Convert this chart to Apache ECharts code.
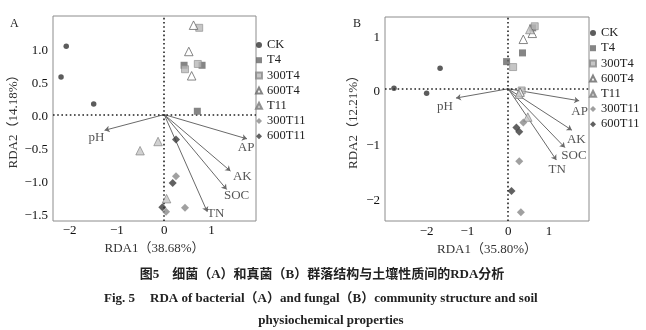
<!DOCTYPE html>
<html><head><meta charset="utf-8">
<script src="https://cdn.jsdelivr.net/npm/echarts@6/dist/echarts.min.js"></script>
<style>html,body{margin:0;padding:0;background:#fff}#c{width:646px;height:330px}</style>
</head><body><div id="c"></div>
<script>
// ---------- data ----------
const groups = ['CK','T4','300T4','600T4','T11','300T11','600T11'];
const envNames = ['pH','AP','AK','SOC','TN'];

// Panel A (bacteria)
const A_CK     = [[-2.07,1.07],[-2.18,0.60],[-1.49,0.19]];
const A_T4     = [[0.42,0.78],[0.80,0.78],[0.70,0.08]];
const A_300T4  = [[0.74,1.35],[0.44,0.72],[0.71,0.80]];
const A_600T4  = [[0.62,1.39],[0.52,0.99],[0.58,0.62]];
const A_T11    = [[-0.13,-0.38],[-0.51,-0.52],[0.05,-1.25]];
const A_300T11 = [[0.25,-0.91],[0.44,-1.39],[0.04,-1.45]];
const A_600T11 = [[0.25,-0.35],[0.18,-1.01],[-0.04,-1.38]];
const A_envEnd   = [[-1.26,-0.21],[1.75,-0.34],[1.40,-0.83],[1.32,-1.11],[0.91,-1.45]];
const A_envLabel = [[-1.43,-0.32],[1.73,-0.47],[1.65,-0.91],[1.53,-1.20],[1.09,-1.47]];
const A_origin = [0, 0.03];
const A_xTicks = [-2,-1,0,1];
const A_yTicks = [-1.5,-1,-0.5,0,0.5,1];
const A_xRange = [-2.35,1.94];
const A_yRange = [-1.59,1.53];

// Panel B (fungi)
const B_CK     = [[-2.80,0.06],[-2.00,-0.03],[-1.67,0.43]];
const B_T4     = [[-0.04,0.55],[0.35,0.71],[0.60,1.17]];
const B_300T4  = [[0.65,1.20],[0.12,0.45],[0.33,0.02]];
const B_600T4  = [[0.37,0.96],[0.59,1.07],[0.29,-0.01]];
const B_T11    = [[0.53,1.14],[0.48,-0.47],[0.26,-0.05]];
const B_300T11 = [[0.37,-0.57],[0.27,-1.28],[0.31,-2.22]];
const B_600T11 = [[0.20,-0.66],[0.27,-0.74],[0.08,-1.83]];
const B_envEnd   = [[-1.28,-0.12],[1.74,-0.17],[1.56,-0.71],[1.39,-1.03],[1.18,-1.26]];
const B_envLabel = [[-1.55,-0.27],[1.75,-0.36],[1.67,-0.88],[1.61,-1.18],[1.20,-1.44]];
const B_origin = [0, 0.05];
const B_xTicks = [-2,-1,0,1];
const B_yTicks = [-2,-1,0,1];
const B_xRange = [-3.02,1.98];
const B_yRange = [-2.38,1.37];

const A_groups = [A_CK,A_T4,A_300T4,A_600T4,A_T11,A_300T11,A_600T11];
const B_groups = [B_CK,B_T4,B_300T4,B_600T4,B_T11,B_300T11,B_600T11];

// ---------- styles ----------
const SERIF = '"Liberation Serif","Times New Roman",serif';
const styles = {
  'CK':     {symbol:'circle',  size:5.5, itemStyle:{color:'#333333'}},
  'T4':     {symbol:'rect',    size:7, itemStyle:{color:'#666666'}},
  '300T4':  {symbol:'rect',    size:7, itemStyle:{color:'#b8b8b8', borderColor:'#8a8a8a', borderWidth:0.8}},
  '600T4':  {symbol:'triangle',size:8.5, itemStyle:{color:'#ffffff', borderColor:'#666666', borderWidth:1}},
  'T11':    {symbol:'triangle',size:8.5, itemStyle:{color:'#c6c6c6', borderColor:'#7a7a7a', borderWidth:0.8}},
  '300T11': {symbol:'diamond', size:8, itemStyle:{color:'#888888'}},
  '600T11': {symbol:'diamond', size:8, itemStyle:{color:'#3a3a3a'}}
};

function fmt(ticks, dec) {
  return function (v) {
    if (!ticks.some(t => Math.abs(t - v) < 1e-6)) return '';
    let s = dec ? v.toFixed(1) : String(Math.round(v));
    if (Math.abs(v) < 1e-9) s = dec ? '0.0' : '0';
    return s.replace('-', '\u2212');
  };
}

function axisCommon(gi, range, ticks, dec, name, nameGap, margin, split) {
  return {
    gridIndex: gi, type: 'value', min: range[0], max: range[1], splitNumber: split,
    axisLine: {show:false}, axisTick: {show:false}, splitLine: {show:false},
    axisLabel: {formatter: fmt(ticks, dec), fontFamily: SERIF, fontSize: 13, color: '#111', margin: margin,
                showMinLabel: true, showMaxLabel: true},
    name: name, nameLocation: 'middle', nameGap: nameGap,
    nameTextStyle: {fontFamily: SERIF + ',"Noto Sans CJK SC"', fontSize: 13, color: '#333'}
  };
}

const series = [];
function addPanel(gi, grpData, envEnd, envLabel, origin) {
  groups.forEach((g, k) => {
    const st = styles[g];
    series.push({
      type: 'scatter', name: g, xAxisIndex: gi, yAxisIndex: gi,
      symbol: st.symbol, symbolSize: st.size, itemStyle: st.itemStyle,
      data: grpData[k], z: 5, silent: true
    });
  });
  series.push({
    type: 'lines', coordinateSystem: 'cartesian2d', xAxisIndex: gi, yAxisIndex: gi,
    symbol: ['none','arrow'], symbolSize: 5, silent: true, z: 4,
    lineStyle: {color: '#6a6a6a', width: 1, opacity: 1},
    data: envEnd.map(e => ({coords: [origin, e]}))
  });
  series.push({
    type: 'scatter', xAxisIndex: gi, yAxisIndex: gi, symbolSize: 0.1, silent: true, z: 6,
    itemStyle: {color: 'rgba(0,0,0,0)'},
    label: {show: true, position: 'inside', formatter: '{b}', fontFamily: SERIF, fontSize: 13, color: '#2a2a2a'},
    data: envNames.map((n, i) => ({name: n, value: envLabel[i]})),
    markLine: {
      silent: true, symbol: ['none','none'], label: {show: false},
      lineStyle: {color: '#222', width: 1.6, type: [1.6, 2.6]},
      data: [{xAxis: origin[0]}, {yAxis: origin[1]}]
    }
  });
}
addPanel(0, A_groups, A_envEnd, A_envLabel, A_origin);
addPanel(1, B_groups, B_envEnd, B_envLabel, B_origin);

const legendBase = {
  orient: 'vertical', itemWidth: 6, itemHeight: 6, itemGap: 0.2, padding: 0,
  selectedMode: false,
  textStyle: {fontFamily: SERIF, fontSize: 12.5, color: '#222', lineHeight: 15},
  data: groups
};

const option = {
  animation: false,
  backgroundColor: '#fff',
  grid: [
    {left: 53, top: 16, width: 203, height: 205, show: true, borderColor: '#8c8c8c', borderWidth: 1},
    {left: 385, top: 17, width: 204, height: 204, show: true, borderColor: '#8c8c8c', borderWidth: 1}
  ],
  xAxis: [
    axisCommon(0, A_xRange, A_xTicks, false, 'RDA1（38.68%）', 17, 3, 4),
    axisCommon(1, B_xRange, B_xTicks, false, 'RDA1（35.80%）', 19, 4, 5)
  ],
  yAxis: [
    axisCommon(0, A_yRange, A_yTicks, true, 'RDA2（14.18%）', 33, 5, 6),
    axisCommon(1, B_yRange, B_yTicks, false, 'RDA2（12.21%）', 25, 5, 4)
  ],
  legend: [
    Object.assign({}, legendBase, {left: 255, top: 37.5}),
    Object.assign({}, legendBase, {left: 589, top: 25.5})
  ],
  graphic: [
    {type: 'text', left: 10, top: 18, style: {text: 'A', font: '12px ' + SERIF, fill: '#222'}},
    {type: 'text', left: 353, top: 18, style: {text: 'B', font: '12px ' + SERIF, fill: '#222'}},
    {type: 'text', x: 322, y: 275, style: {text: '图5　细菌（A）和真菌（B）群落结构与土壤性质间的RDA分析',
      font: 'bold 13px "Liberation Serif","Noto Sans CJK SC"', fill: '#222', textAlign: 'center', textVerticalAlign: 'middle'}},
    {type: 'text', x: 104, y: 299, style: {text: 'Fig. 5',
      font: 'bold 13px ' + SERIF, fill: '#222', textAlign: 'left', textVerticalAlign: 'middle'}},
    {type: 'text', x: 150, y: 299, style: {text: 'RDA of bacterial（A）and fungal（B）community structure and soil',
      font: 'bold 13px "Liberation Serif","Noto Sans CJK SC"', fill: '#222', textAlign: 'left', textVerticalAlign: 'middle'}},
    {type: 'text', x: 331, y: 321, style: {text: 'physiochemical properties',
      font: 'bold 13px ' + SERIF, fill: '#222', textAlign: 'center', textVerticalAlign: 'middle'}}
  ],
  series: series
};

const chart = echarts.init(document.getElementById('c'), null, {renderer: 'canvas'});
chart.setOption(option);
</script>
</body></html>
